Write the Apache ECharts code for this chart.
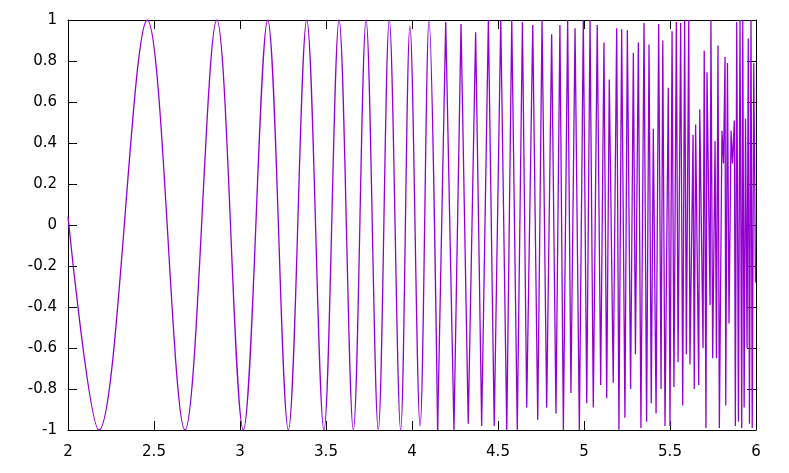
<!DOCTYPE html>
<html>
<head>
<meta charset="utf-8">
<script src="https://cdn.jsdelivr.net/npm/echarts@6/dist/echarts.min.js"></script>
<style>
html,body{margin:0;padding:0;background:#fff;}
#chart{width:789px;height:473px;}
</style>
</head>
<body>
<div id="chart"></div>
<script>
// Smooth part of the curve: start point plus the read peaks / troughs
var smoothX = [2.000, 2.180, 2.461, 2.680, 2.865, 3.019, 3.161, 3.281, 3.388, 3.488,
               3.576, 3.659, 3.733, 3.804, 3.868, 3.934, 3.988, 4.047, 4.099, 4.149];
var smoothY = [0.04, -1, 1, -1, 1, -1, 1, -1, 1, -1,
               1, -1, 1, -1, 1, -1, 0.97, -0.98, 1, -1];

var sharpX = [4.149, 4.196, 4.244, 4.285, 4.327, 4.370, 4.405, 4.444, 4.478, 4.516,
              4.551, 4.580, 4.612, 4.642, 4.667, 4.702, 4.731, 4.756, 4.783, 4.812,
              4.837, 4.860, 4.880, 4.905, 4.924, 4.948, 4.973, 4.996, 5.016, 5.035,
              5.054, 5.077, 5.097, 5.116, 5.132, 5.147, 5.170, 5.190, 5.203, 5.219,
              5.238, 5.252, 5.271, 5.287, 5.299, 5.316, 5.331, 5.349, 5.364, 5.378,
              5.391, 5.403, 5.419, 5.434, 5.448, 5.458, 5.471, 5.490, 5.500, 5.512,
              5.523, 5.537, 5.547, 5.562, 5.574, 5.585, 5.595, 5.609, 5.616, 5.634,
              5.641, 5.649, 5.667, 5.673, 5.692, 5.699, 5.709, 5.715, 5.733, 5.738,
              5.748, 5.762, 5.770, 5.779, 5.787, 5.802, 5.811, 5.820, 5.824, 5.834,
              5.843, 5.855, 5.863, 5.874, 5.880, 5.888, 5.898, 5.907, 5.917, 5.923,
              5.931, 5.939, 5.948, 5.955, 5.962, 5.971, 5.978, 5.987, 5.997];
var sharpY = [-1, 0.99, -1, 0.98, -0.97, 0.94, -0.98, 1, -0.98, 1,
              -1, 1, -1, 0.99, -0.89, 0.975, -0.95, 1, -0.89, 0.93,
              -0.92, 0.975, -1, 1, -0.82, 0.96, -1, 1, -0.87, 1,
              -0.89, 0.975, -0.78, 0.89, -0.845, 0.71, -0.77, 0.96, -1, 0.955,
              -0.94, 0.95, -0.8, 0.84, -0.63, 0.89, -0.99, 0.985, -0.96, 0.88,
              -0.87, 0.47, -0.92, 0.98, -0.8, 0.9, -0.98, 0.67, -0.98, 0.945,
              -0.79, 0.99, -0.67, 0.985, -0.88, 1, -0.63, 1, -0.68, 0.44,
              -0.8, 0.49, -0.78, 0.565, -0.6, 0.85, -0.99, 0.745, -0.39, 1,
              -0.65, 0.41, -0.65, 0.875, -0.99, 0.46, 0.3, 0.82, -0.88, 0.79,
              -0.48, 0.46, 0.3, 0.51, -0.98, 0.99, -0.96, 1, -0.99, 1,
              -0.89, 0.52, -0.6, 0.91, -0.97, 1, -0.99, 0.79, -0.28];

var xMin = 2, xMax = 6, xStep = 0.5;
var yMin = -1, yMax = 1, yStep = 0.2;
var lineColor = '#9400d3';

function pairs(xs, ys) {
  var out = [];
  for (var i = 0; i < xs.length; i++) out.push([xs[i], ys[i]]);
  return out;
}

var font = 'DejaVu Sans';
var labelStyle = {color: '#000', fontFamily: font, fontSize: 15};
function mkX(pos, show) {
  return {
    type: 'value', min: xMin, max: xMax, interval: xStep, position: pos,
    axisLine: {show: true, onZero: false, lineStyle: {color: '#000', width: 1}},
    axisTick: {show: true, inside: true, length: 9, lineStyle: {color: '#000'}},
    axisLabel: Object.assign({show: show, margin: 15}, labelStyle),
    splitLine: {show: false}
  };
}
function mkY(pos, show) {
  return {
    type: 'value', min: yMin, max: yMax, interval: yStep, position: pos,
    axisLine: {show: true, onZero: false, lineStyle: {color: '#000', width: 1}},
    axisTick: {show: true, inside: true, length: 9, lineStyle: {color: '#000'}},
    axisLabel: Object.assign({show: show, margin: 11}, labelStyle),
    splitLine: {show: false}
  };
}

var chart = echarts.init(document.getElementById('chart'), null, {renderer: 'canvas'});
chart.setOption({
  animation: false,
  backgroundColor: '#fff',
  grid: {left: 68, right: 33, top: 20, bottom: 43, containLabel: false},
  xAxis: [mkX('bottom', true), mkX('top', false)],
  yAxis: [mkY('left', true), mkY('right', false)],
  series: [
    {type: 'line', xAxisIndex: 0, yAxisIndex: 0, data: pairs(smoothX, smoothY),
     smooth: 0.35, showSymbol: false, symbol: 'none',
     lineStyle: {color: lineColor, width: 1.3}, clip: true},
    {type: 'line', xAxisIndex: 0, yAxisIndex: 0, data: pairs(sharpX, sharpY),
     smooth: false, showSymbol: false, symbol: 'none',
     lineStyle: {color: lineColor, width: 1.3}, clip: true}
  ]
});
</script>
</body>
</html>
